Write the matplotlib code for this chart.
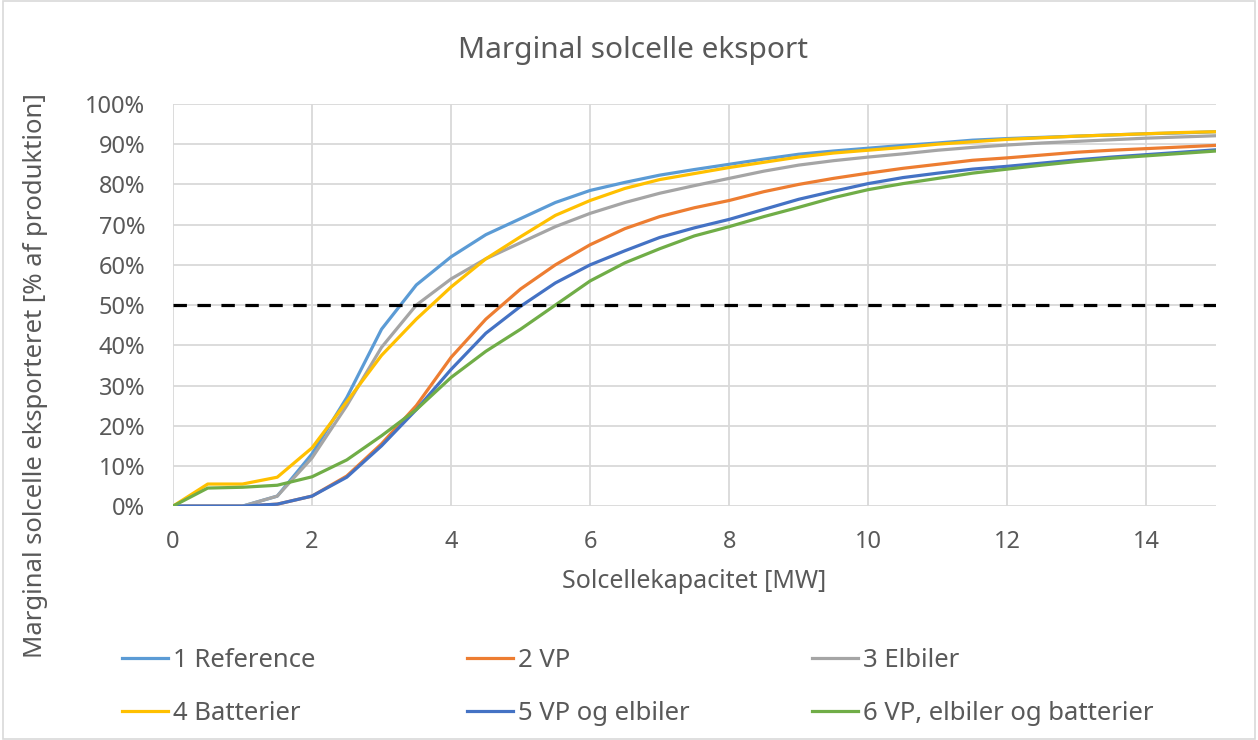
import numpy as np
import matplotlib.pyplot as plt
from matplotlib.patches import Rectangle

plt.rcParams['font.family'] = ['Noto Sans', 'DejaVu Sans']

# capacity in MW
x = np.arange(0, 15.5, 0.5)

# marginal export, % of production
reference = [0, 0, 0, 2.5, 13, 27, 44, 55, 62, 67.5, 71.5, 75.5, 78.5, 80.5, 82.3, 83.7,
             85, 86.3, 87.5, 88.3, 89, 89.7, 90.3, 91, 91.4, 91.7, 92, 92.3, 92.6, 92.8, 93.1]
vp = [0, 0, 0, 0.5, 2.5, 7.5, 15.5, 25, 37, 46.5, 54, 60, 65, 69, 72, 74.2,
      76, 78.2, 80, 81.5, 82.8, 84, 85, 86, 86.6, 87.3, 88, 88.5, 88.9, 89.3, 89.7]
elbiler = [0, 0, 0, 2.5, 12, 25, 39.5, 50, 56.5, 61.5, 65.5, 69.5, 72.8, 75.5, 77.8, 79.7,
           81.5, 83.3, 84.8, 85.9, 86.8, 87.6, 88.5, 89.2, 89.8, 90.3, 90.7, 91.1, 91.5, 91.8, 92.1]
batterier = [0, 5.5, 5.5, 7.2, 14.5, 26, 37.5, 46.5, 54.5, 61.5, 67, 72.3, 76, 79, 81.2, 82.7,
             84.2, 85.5, 86.8, 87.8, 88.5, 89.2, 90, 90.6, 91.2, 91.6, 92, 92.3, 92.6, 92.9, 93.1]
vp_elbiler = [0, 0, 0, 0.5, 2.5, 7.2, 15, 24, 34, 43, 49.7, 55.5, 60, 63.5, 66.8, 69.2,
              71.3, 73.8, 76.3, 78.3, 80.2, 81.7, 82.8, 83.8, 84.5, 85.3, 86.1, 86.8, 87.4, 88, 88.6]
vp_elbiler_batt = [0, 4.5, 4.7, 5.2, 7.3, 11.5, 17.5, 24, 32, 38.5, 44, 50, 56, 60.5, 64, 67.2,
                   69.5, 72, 74.3, 76.7, 78.7, 80.2, 81.5, 82.8, 83.8, 84.8, 85.7, 86.5, 87.1, 87.7, 88.3]

series = [reference, vp, elbiler, batterier, vp_elbiler, vp_elbiler_batt]
labels = ['1 Reference', '2 VP', '3 Elbiler', '4 Batterier', '5 VP og elbiler',
          '6 VP, elbiler og batterier']
colors = ['#5B9BD5', '#ED7D31', '#A5A5A5', '#FFC000', '#4472C4', '#70AD47']
threshold = 50

txt = '#595959'

fig = plt.figure(figsize=(12.58, 7.4), dpi=100)
ax = fig.add_axes([0.1375, 0.316, 0.829, 0.5435])

lines = []
for y, lab, c in zip(series, labels, colors):
    ln, = ax.plot(x, np.array(y) / 100, color=c, lw=2.3, label=lab)
    lines.append(ln)
ax.axhline(threshold / 100, color='black', lw=2.3, dashes=(4.2, 3.3))

ax.set_xlim(0, 15)
ax.set_ylim(0, 1)
ax.set_xticks(np.arange(0, 15, 2))
ax.set_yticks(np.arange(0, 1.01, 0.1))
ax.set_yticklabels(['%d%%' % v for v in range(0, 101, 10)])
ax.grid(True, color='#d9d9d9', lw=1.3)
ax.set_axisbelow(True)
for s in ax.spines.values():
    s.set_visible(False)
ax.tick_params(length=0, labelsize=17, labelcolor=txt)
ax.tick_params(axis='x', pad=17)
ax.tick_params(axis='y', pad=20)

fig.text(0.503, 0.932, 'Marginal solcelle eksport', fontsize=21.5, color=txt,
         ha='center', va='center')
fig.text(0.552, 1 - 582 / 740, 'Solcellekapacitet [MW]', fontsize=18, color=txt,
         ha='center', va='center')
fig.text(0.028, 0.493, 'Marginal solcelle eksporteret [% af produktion]', rotation=90,
         fontsize=18.5, color=txt, ha='center', va='center')

# legend: three columns, two rows
col_x = [0.097, 0.371, 0.6455]
for i, cx in enumerate(col_x):
    fig.legend([lines[i], lines[i + 3]], [labels[i], labels[i + 3]], loc='upper left',
               bbox_to_anchor=(cx, 0.124), bbox_transform=fig.transFigure,
               frameon=False, fontsize=18.5, labelcolor=txt, handlelength=1.8,
               handletextpad=0.2, labelspacing=1.08, borderaxespad=0, borderpad=0)

fig.patches.append(Rectangle((0.002, 0.002), 0.996, 0.996, transform=fig.transFigure,
                             fill=False, edgecolor='#d9d9d9', lw=1.2))

fig.savefig('out.png', dpi=100)
